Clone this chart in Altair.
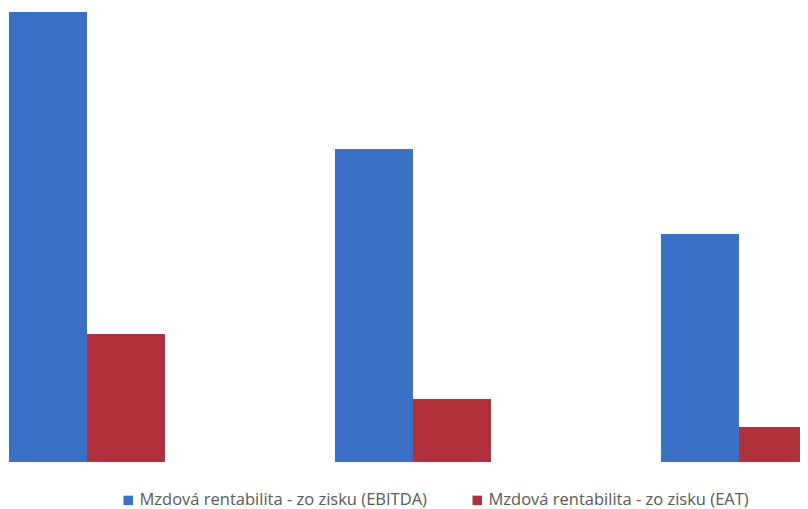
import altair as alt
import pandas as pd

groups = ["1", "2", "3"]
series = ["Mzdová rentabilita - zo zisku (EBITDA)", "Mzdová rentabilita - zo zisku (EAT)"]
ebitda = [45.0, 31.3, 22.8]
eat = [12.8, 6.3, 3.5]
colors = ["#3a70c6", "#b0303b"]

rows = []
for g, a, b in zip(groups, ebitda, eat):
    rows.append({"g": g, "s": series[0], "v": a})
    rows.append({"g": g, "s": series[1], "v": b})
df = pd.DataFrame(rows)

chart = alt.Chart(df).mark_bar(clip=True).encode(
    x=alt.X("g:N", axis=None, sort=groups,
            scale=alt.Scale(paddingInner=0.5215, paddingOuter=0)),
    xOffset=alt.XOffset("s:N", sort=series, scale=alt.Scale(paddingInner=0, paddingOuter=0)),
    y=alt.Y("v:Q", axis=None, scale=alt.Scale(domain=[0, 45.4], nice=False, zero=True)),
    color=alt.Color("s:N", sort=series,
                    scale=alt.Scale(domain=series, range=colors),
                    legend=alt.Legend(title=None, orient="none", legendX=111, legendY=484,
                                      direction="horizontal",
                                      symbolType="square", symbolSize=90, symbolStrokeWidth=0,
                                      labelFont="Open Sans", labelFontSize=16.5, labelColor="#595959",
                                      labelLimit=0,
                                      columnPadding=42, symbolOffset=0, labelOffset=3)),
).properties(
    width=808, height=454,
    padding={"left": 1, "right": -17, "top": 0, "bottom": 0},
).configure_view(stroke=None)

chart.save("out.html", embed_options={"renderer": "svg", "actions": False})
